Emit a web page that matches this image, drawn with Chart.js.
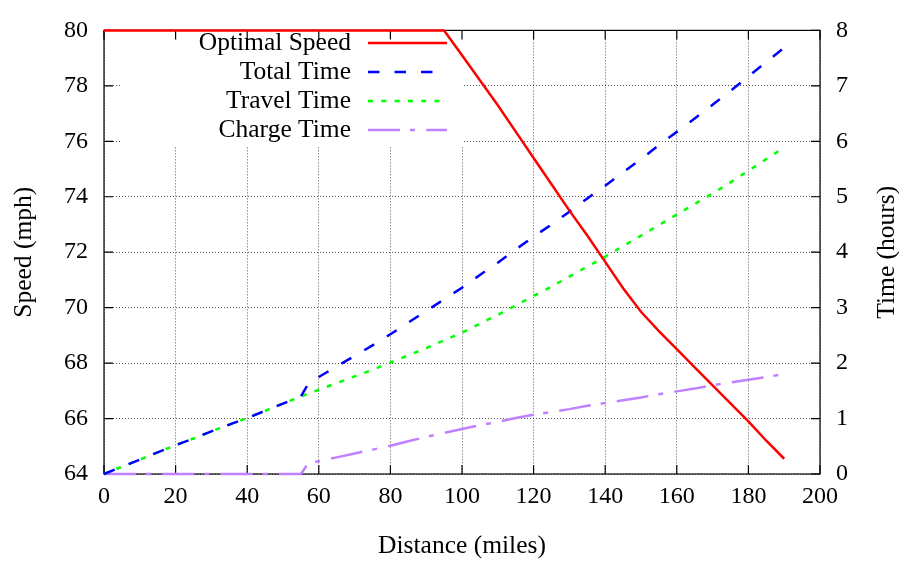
<!DOCTYPE html>
<html>
<head>
<meta charset="utf-8">
<script src="https://cdn.jsdelivr.net/npm/chart.js@4.4.1/dist/chart.umd.min.js"></script>
<style>
  html, body { margin: 0; padding: 0; background: #fff; }
  #wrap { width: 902px; height: 565px; }
</style>
</head>
<body>
<div id="wrap"><canvas id="myChart" width="902" height="565"></canvas></div>
<script>
    // distance in miles
    var distance = [0, 5, 10, 15, 20, 25, 30, 35, 40, 45, 50, 55, 57, 60, 65, 70, 75, 80, 85, 90, 95,
                    100, 105, 110, 115, 120, 125, 130, 135, 140, 145, 150, 155, 160, 165, 170, 175, 180, 185, 190];
    var optimalSpeed = [80, 80, 80, 80, 80, 80, 80, 80, 80, 80, 80, 80, 80, 80, 80, 80, 80, 80, 80, 80, 80,
                        79.1, 78.2, 77.3, 76.35, 75.4, 74.45, 73.5, 72.6, 71.65, 70.7, 69.85, 69.15, 68.5, 67.85, 67.2, 66.55, 65.9, 65.2, 64.55];
    var totalTime = [0, 0.13, 0.26, 0.39, 0.52, 0.64, 0.77, 0.89, 1.01, 1.14, 1.27, 1.40, 1.62, 1.75, 1.94, 2.13, 2.32, 2.52, 2.73, 2.94, 3.15,
                     3.36, 3.59, 3.81, 4.05, 4.28, 4.50, 4.73, 4.97, 5.20, 5.44, 5.68, 5.93, 6.17, 6.41, 6.66, 6.91, 7.17, 7.43, 7.69];
    var travelTime = [0, 0.13, 0.26, 0.39, 0.52, 0.64, 0.77, 0.89, 1.01, 1.14, 1.27, 1.40, 1.45, 1.52, 1.64, 1.76, 1.88, 2.01, 2.14, 2.27, 2.41,
                      2.55, 2.71, 2.87, 3.04, 3.21, 3.38, 3.56, 3.74, 3.92, 4.11, 4.30, 4.49, 4.68, 4.87, 5.06, 5.26, 5.47, 5.68, 5.89];
    var chargeTime = [0, 0, 0, 0, 0, 0, 0, 0, 0, 0, 0, 0, 0.19, 0.23, 0.30, 0.37, 0.44, 0.51, 0.59, 0.67, 0.74,
                      0.81, 0.88, 0.94, 1.01, 1.07, 1.12, 1.17, 1.23, 1.28, 1.33, 1.38, 1.44, 1.49, 1.54, 1.60, 1.65, 1.70, 1.75, 1.80];

    var xTicks = [0, 20, 40, 60, 80, 100, 120, 140, 160, 180, 200];
    var speedTicks = [64, 66, 68, 70, 72, 74, 76, 78, 80];
    var timeTicks = [0, 1, 2, 3, 4, 5, 6, 7, 8];

    var FONT = '"Liberation Serif", "DejaVu Serif", serif';

    function pts(ys) {
        return distance.map(function (d, i) { return {x: d, y: ys[i]}; });
    }

    var series = [
        {label: 'Optimal Speed', data: pts(optimalSpeed), color: 'rgb(255,0,0)', dash: [], axis: 'y'},
        {label: 'Total Time', data: pts(totalTime), color: 'rgb(0,0,255)', dash: [11.5, 15], axis: 'y2'},
        {label: 'Travel Time', data: pts(travelTime), color: 'rgb(0,255,0)', dash: [5, 8.3], axis: 'y2'},
        {label: 'Charge Time', data: pts(chargeTime), color: 'rgb(192,128,255)', dash: [32, 10, 5, 11.3], axis: 'y2'}
    ];

    // gnuplot style frame, inward ticks, axis titles and key box
    var gnuplotLook = {
        id: 'gnuplotLook',
        beforeDatasetsDraw: function (chart) {
            var ctx = chart.ctx, a = chart.chartArea, s = chart.scales;
            ctx.save();
            // key box hides the grid
            ctx.fillStyle = '#fff';
            ctx.fillRect(122, 28, 341, 119);
            // frame
            ctx.strokeStyle = '#000';
            ctx.lineWidth = 1.2;
            ctx.setLineDash([]);
            ctx.strokeRect(a.left, a.top, a.right - a.left, a.bottom - a.top);
            ctx.beginPath();
            xTicks.forEach(function (v) {
                var px = s.x.getPixelForValue(v);
                ctx.moveTo(px, a.bottom); ctx.lineTo(px, a.bottom - 9);
                ctx.moveTo(px, a.top); ctx.lineTo(px, a.top + 9);
            });
            speedTicks.forEach(function (v) {
                var py = s.y.getPixelForValue(v);
                ctx.moveTo(a.left, py); ctx.lineTo(a.left + 9, py);
            });
            timeTicks.forEach(function (v) {
                var py = s.y2.getPixelForValue(v);
                ctx.moveTo(a.right, py); ctx.lineTo(a.right - 9, py);
            });
            ctx.stroke();

            // key
            ctx.font = '25.5px ' + FONT;
            ctx.fillStyle = '#000';
            ctx.textAlign = 'right';
            ctx.textBaseline = 'middle';
            var rows = [43, 72, 101, 130];
            series.forEach(function (d, i) {
                ctx.fillText(d.label, 351, rows[i]);
                ctx.strokeStyle = d.color;
                ctx.lineWidth = 2.5;
                ctx.setLineDash(d.dash);
                ctx.beginPath();
                ctx.moveTo(368, rows[i]);
                ctx.lineTo(447, rows[i]);
                ctx.stroke();
            });
            ctx.setLineDash([]);

            // axis titles
            ctx.textAlign = 'center';
            ctx.fillText('Distance (miles)', (a.left + a.right) / 2, 546);
            ctx.save();
            ctx.translate(24, (a.top + a.bottom) / 2);
            ctx.rotate(-Math.PI / 2);
            ctx.fillText('Speed (mph)', 0, 0);
            ctx.restore();
            ctx.save();
            ctx.translate(887, (a.top + a.bottom) / 2);
            ctx.rotate(-Math.PI / 2);
            ctx.fillText('Time (hours)', 0, 0);
            ctx.restore();
            ctx.restore();
        }
    };

    var gridOpts = {color: 'rgba(60,60,60,0.85)', lineWidth: 1, drawTicks: false};
    var tickFont = {family: FONT, size: 24};

    var ctx = document.getElementById('myChart').getContext('2d');
    var myChart = new Chart(ctx, {
        type: 'line',
        data: {
            datasets: series.map(function (d) {
                return {
                    label: d.label,
                    data: d.data,
                    yAxisID: d.axis,
                    borderColor: d.color,
                    backgroundColor: d.color,
                    borderWidth: 2.5,
                    borderDash: d.dash,
                    borderCapStyle: 'butt',
                    pointRadius: 0,
                    tension: 0,
                    fill: false,
                    clip: false
                };
            })
        },
        options: {
            responsive: false,
            animation: false,
            layout: {padding: {top: 20, left: 0, right: 0, bottom: 0}},
            plugins: {
                legend: {display: false},
                tooltip: {enabled: false}
            },
            scales: {
                x: {
                    type: 'linear',
                    min: 0, max: 200,
                    afterBuildTicks: function (axis) { axis.ticks = xTicks.map(function (v) { return {value: v}; }); },
                    afterFit: function (axis) { axis.height = 91; },
                    grid: gridOpts,
                    border: {display: false, dash: [1, 2]},
                    ticks: {font: tickFont, color: '#000', padding: 8, maxRotation: 0}
                },
                y: {
                    type: 'linear',
                    position: 'left',
                    min: 64, max: 80,
                    afterBuildTicks: function (axis) { axis.ticks = speedTicks.map(function (v) { return {value: v}; }); },
                    afterFit: function (axis) { axis.width = 104; },
                    grid: gridOpts,
                    border: {display: false, dash: [1, 2]},
                    ticks: {font: tickFont, color: '#000', padding: 16}
                },
                y2: {
                    type: 'linear',
                    position: 'right',
                    min: 0, max: 8,
                    afterBuildTicks: function (axis) { axis.ticks = timeTicks.map(function (v) { return {value: v}; }); },
                    afterFit: function (axis) { axis.width = 82; },
                    grid: {display: false, drawTicks: false},
                    border: {display: false},
                    ticks: {font: tickFont, color: '#000', padding: 16}
                }
            }
        },
        plugins: [gnuplotLook]
    });
</script>
</body>
</html>
